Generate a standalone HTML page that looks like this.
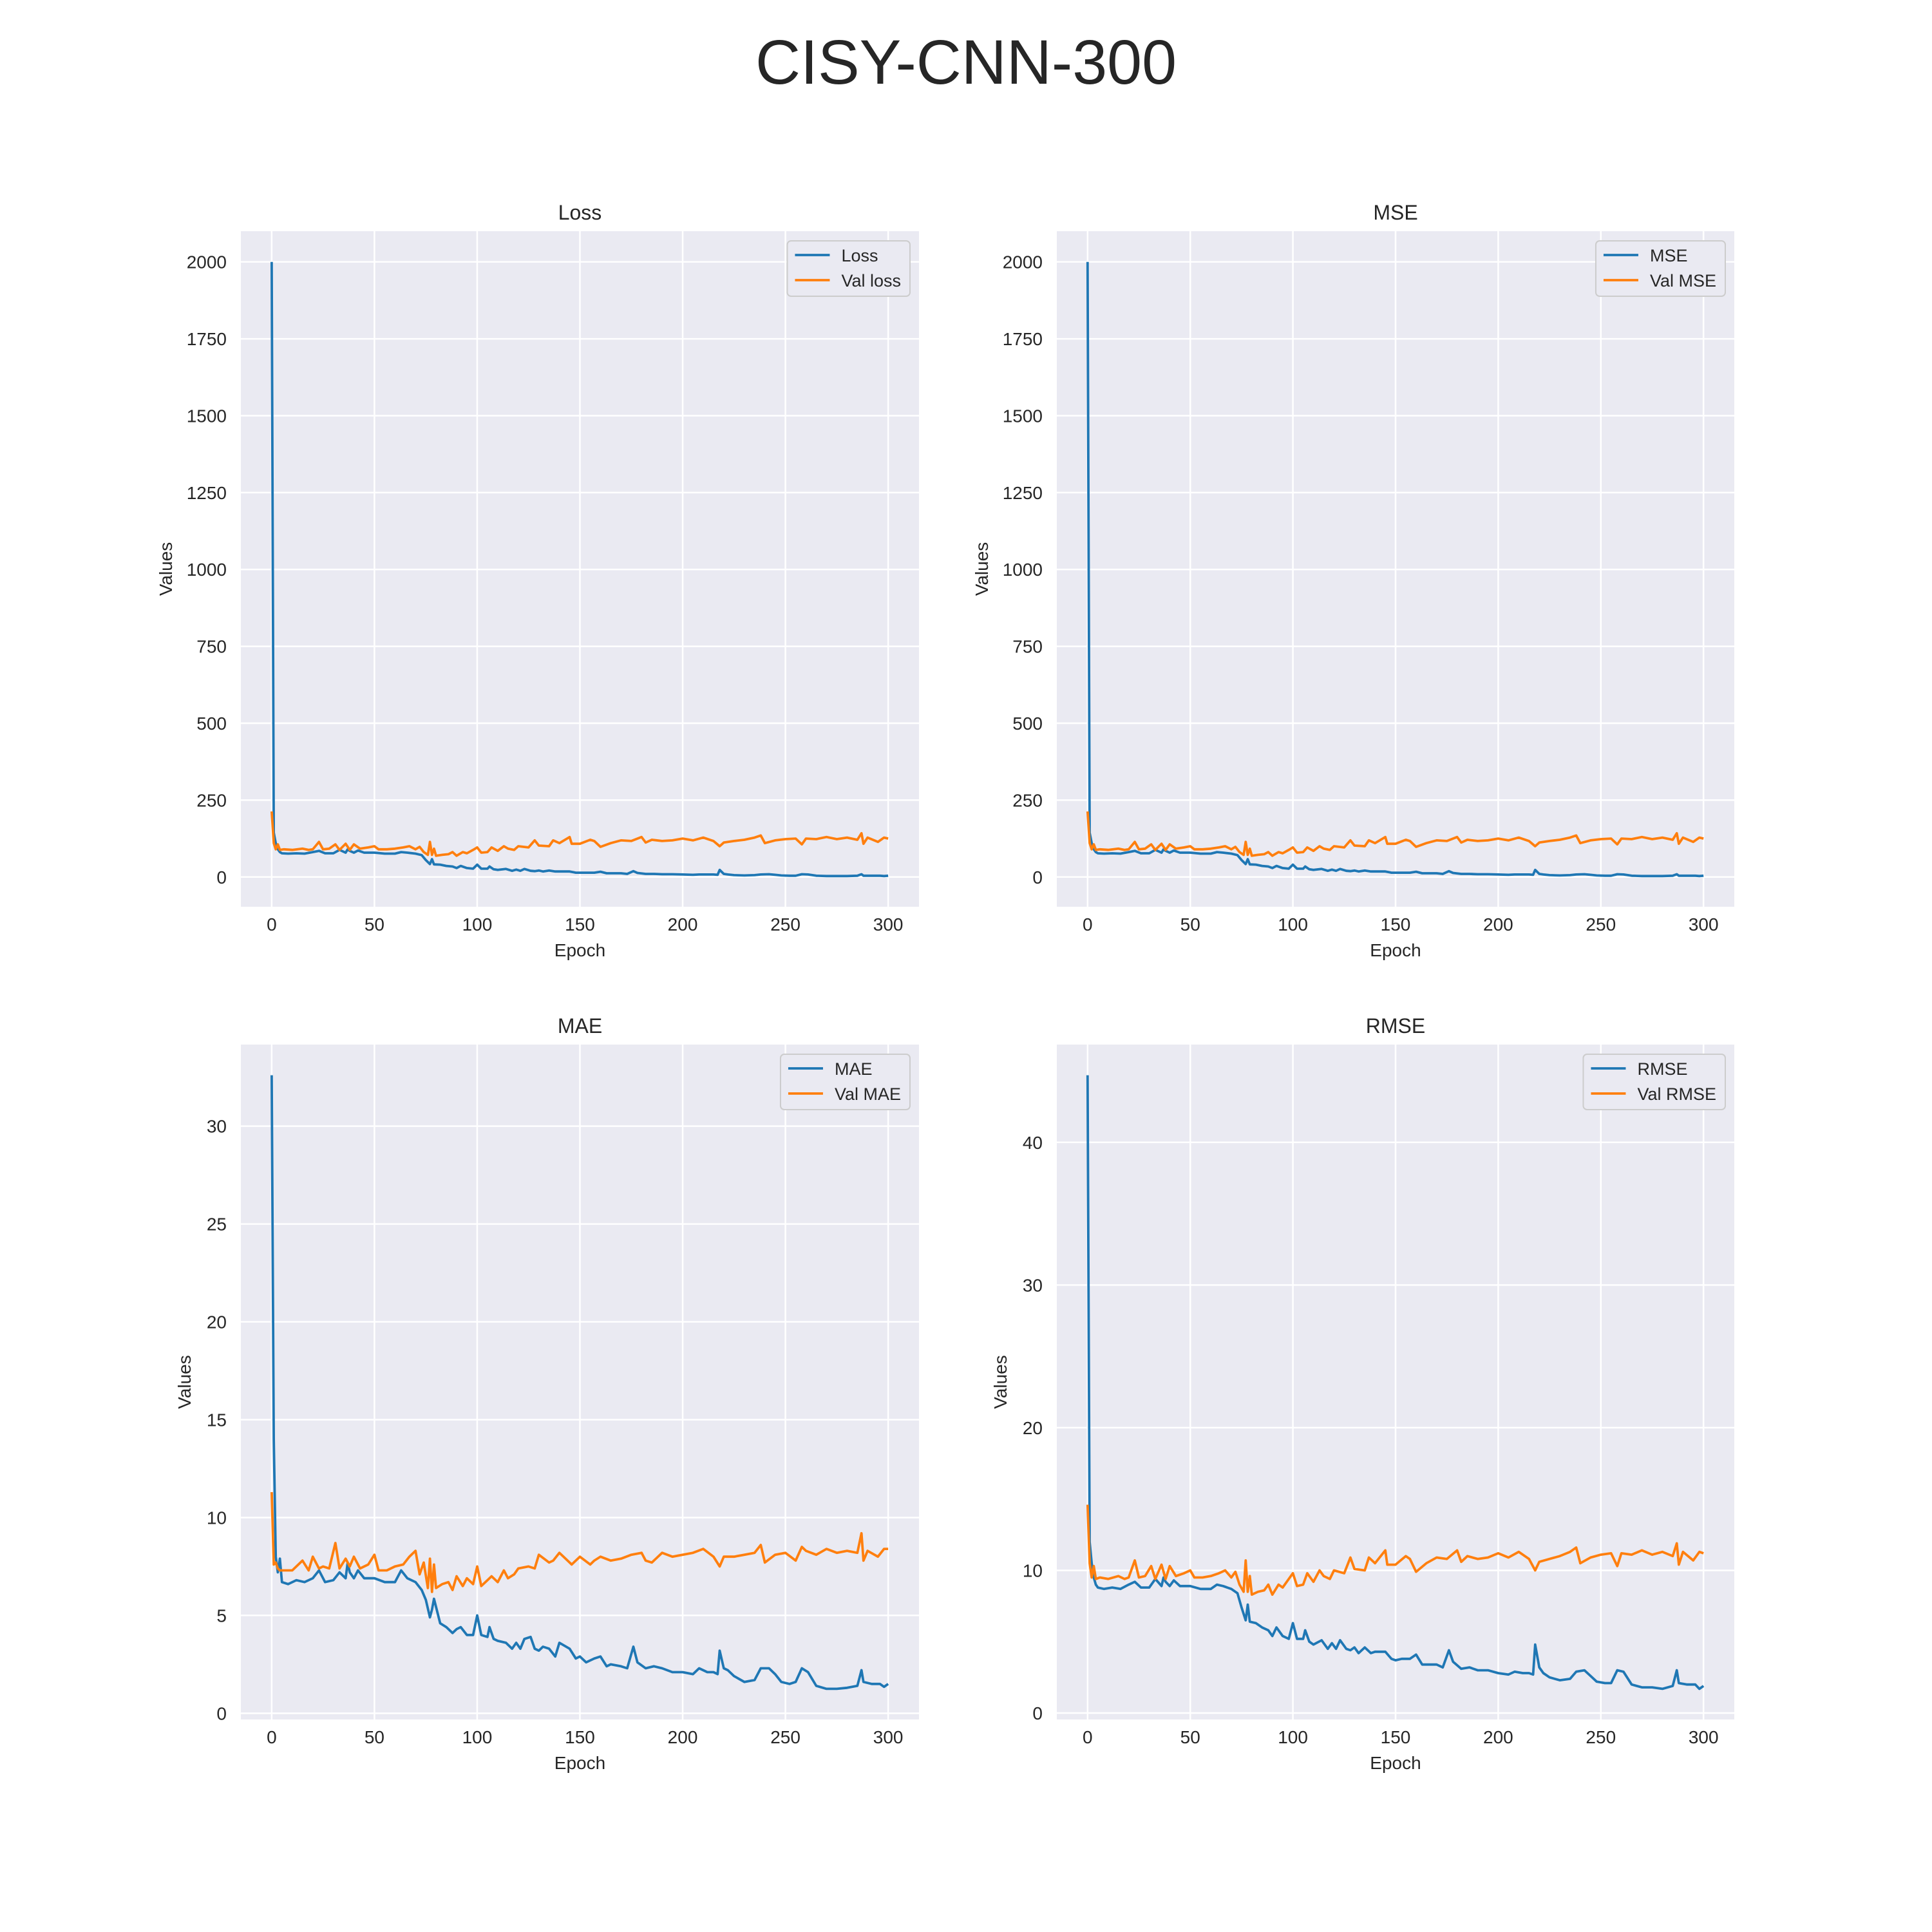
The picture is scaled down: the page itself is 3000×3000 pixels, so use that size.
<!DOCTYPE html>
<html><head><meta charset="utf-8"><style>
html,body{margin:0;padding:0;background:#fff}
svg{display:block}
text{font-family:"Liberation Sans",Arial,sans-serif;fill:#262626}
</style></head><body>
<svg id="fig" width="3000" height="3000" viewBox="0 0 3000 3000" xmlns="http://www.w3.org/2000/svg">
<rect width="3000" height="3000" fill="#fff"/>
<text x="1500" y="130" font-size="97" text-anchor="middle">CISY-CNN-300</text>
</svg>
<script>
const trainEpochs=[0,1,2,3,4,5,8,12,16,20,23,26,30,33,36,37,38,40,42,45,50,55,60,63,66,70,73,75,77,78,79,82,85,88,90,92,95,98,100,102,105,106,108,110,114,117,119,121,123,126,128,130,132,135,138,140,145,148,150,153,157,160,163,165,170,173,176,178,182,186,190,195,200,205,208,212,215,217,218,220,222,225,230,235,238,242,245,248,252,255,258,261,265,270,275,280,285,287,288,292,296,298,300];
const valEpochs=[0,1,2,3,4,6,10,15,18,20,23,25,28,31,33,36,38,40,43,47,50,52,56,60,64,67,70,72,74,76,77,78,79,80,83,86,88,90,93,95,98,100,102,105,107,110,113,115,118,120,125,128,130,135,137,140,145,146,150,155,157,160,165,170,175,180,182,185,190,195,200,205,210,215,218,220,225,230,235,238,240,245,250,255,258,260,265,270,275,280,285,287,288,290,295,298,300];
const lossTrain=[2000,144,110,90,81,77,76,77,76,81,85,77,77,88,79,90,85,79,86,79,79,76,76,81,79,76,71,55,42,58,41,40,36,34,29,36,29,27,40,27,27,34,25,23,26,20,24,20,26,20,19,21,18,21,18,18,18,14,14,14,14,17,12,12,12,10,19,13,10,10,9,9,8,7,8,8,8,7,23,10,8,6,5,6,8,9,7,5,4,4,9,8,4,3,3,3,4,9,4,4,4,3,4];
const lossVal=[213,110,90,106,88,90,88,92,88,90,114,90,92,106,88,108,88,106,92,96,100,90,90,92,96,100,90,98,81,72,114,72,92,69,72,74,81,69,81,77,88,96,79,81,96,85,100,92,88,100,96,119,102,100,119,110,130,108,108,121,117,98,110,119,117,130,112,121,117,119,125,119,128,117,100,112,117,121,128,135,110,119,123,125,106,125,123,130,123,128,121,142,108,128,114,128,125];
const mseTrain=[2000,144,110,90,81,77,76,77,76,81,85,77,77,88,79,90,85,79,86,79,79,76,76,81,79,76,71,55,42,58,41,40,36,34,29,36,29,27,40,27,27,34,25,23,26,20,24,20,26,20,19,21,18,21,18,18,18,14,14,14,14,17,12,12,12,10,19,13,10,10,9,9,8,7,8,8,8,7,23,10,8,6,5,6,8,9,7,5,4,4,9,8,4,3,3,3,4,9,4,4,4,3,4];
const mseVal=[213,110,90,106,88,90,88,92,88,90,114,90,92,106,88,108,88,106,92,96,100,90,90,92,96,100,90,98,81,72,114,72,92,69,72,74,81,69,81,77,88,96,79,81,96,85,100,92,88,100,96,119,102,100,119,110,130,108,108,121,117,98,110,119,117,130,112,121,117,119,125,119,128,117,100,112,117,121,128,135,110,119,123,125,106,125,123,130,123,128,121,142,108,128,114,128,125];
const maeTrain=[32.6,14,8.0,7.2,7.9,6.7,6.6,6.8,6.7,6.9,7.3,6.7,6.8,7.2,6.9,7.7,7.2,6.9,7.3,6.9,6.9,6.7,6.7,7.3,6.9,6.7,6.3,5.8,4.9,5.3,5.85,4.6,4.4,4.1,4.3,4.4,4.0,4.0,5.0,4.0,3.9,4.4,3.8,3.7,3.6,3.3,3.6,3.3,3.8,3.9,3.3,3.2,3.4,3.3,2.9,3.6,3.3,2.8,2.9,2.6,2.8,2.9,2.4,2.5,2.4,2.3,3.4,2.6,2.3,2.4,2.3,2.1,2.1,2.0,2.3,2.1,2.1,2.0,3.2,2.3,2.2,1.9,1.6,1.7,2.3,2.3,2.0,1.6,1.5,1.6,2.3,2.1,1.4,1.25,1.25,1.3,1.4,2.2,1.6,1.5,1.5,1.35,1.5];
const maeVal=[11.3,7.6,7.7,7.4,7.3,7.3,7.3,7.8,7.3,8.0,7.4,7.5,7.4,8.7,7.4,7.9,7.5,8.0,7.4,7.6,8.1,7.3,7.3,7.5,7.6,8.0,8.3,7.1,7.7,6.4,7.9,6.2,7.6,6.4,6.6,6.7,6.3,7.0,6.5,6.9,6.6,7.5,6.5,6.8,7.0,6.7,7.3,6.9,7.1,7.4,7.5,7.4,8.1,7.7,7.8,8.2,7.7,7.6,8.0,7.6,7.8,8.0,7.8,7.9,8.1,8.2,7.8,7.7,8.2,8.0,8.1,8.2,8.4,8.0,7.5,8.0,8.0,8.1,8.2,8.6,7.7,8.1,8.2,7.8,8.5,8.3,8.1,8.4,8.2,8.3,8.2,9.2,7.8,8.3,8.0,8.4,8.4];
const rmseTrain=[44.7,12,10.5,9.5,9.0,8.8,8.7,8.8,8.7,9.0,9.2,8.8,8.8,9.4,8.9,9.5,9.2,8.9,9.3,8.9,8.9,8.7,8.7,9.0,8.9,8.7,8.4,7.4,6.5,7.6,6.4,6.3,6.0,5.8,5.4,6.0,5.4,5.2,6.3,5.2,5.2,5.8,5.0,4.8,5.1,4.5,4.9,4.5,5.1,4.5,4.4,4.6,4.2,4.6,4.2,4.3,4.3,3.8,3.7,3.8,3.8,4.1,3.4,3.4,3.4,3.2,4.4,3.6,3.1,3.2,3.0,3.0,2.8,2.7,2.9,2.8,2.8,2.7,4.8,3.2,2.8,2.5,2.3,2.4,2.9,3.0,2.6,2.2,2.1,2.1,3.0,2.9,2.0,1.8,1.8,1.7,1.9,3.0,2.1,2.0,2.0,1.7,1.9];
const rmseVal=[14.6,10.5,9.5,10.3,9.4,9.5,9.4,9.6,9.4,9.5,10.7,9.5,9.6,10.3,9.4,10.4,9.4,10.3,9.6,9.8,10.0,9.5,9.5,9.6,9.8,10.0,9.5,9.9,9.0,8.5,10.7,8.5,9.6,8.3,8.5,8.6,9.0,8.3,9.0,8.8,9.4,9.8,8.9,9.0,9.8,9.2,10.0,9.6,9.4,10.0,9.8,10.9,10.1,10.0,10.9,10.5,11.4,10.4,10.4,11.0,10.8,9.9,10.5,10.9,10.8,11.4,10.6,11.0,10.8,10.9,11.2,10.9,11.3,10.8,10.0,10.6,10.8,11.0,11.3,11.6,10.5,10.9,11.1,11.2,10.3,11.2,11.1,11.4,11.1,11.3,11.0,11.9,10.4,11.3,10.7,11.3,11.2];
const xTicks=[0,50,100,150,200,250,300];
const yTicksLoss=[0,250,500,750,1000,1250,1500,1750,2000];
const yTicksMae=[0,5,10,15,20,25,30];
const yTicksRmse=[0,10,20,30,40];
const panels=[
 {name:'loss',title:'Loss',l:374,t:359,w:1053,h:1049,yo:107,tr:lossTrain,va:lossVal,yt:yTicksLoss,lab:['Loss','Val loss']},
 {name:'mse',title:'MSE',l:1641,t:359,w:1052,h:1049,yo:107,tr:mseTrain,va:mseVal,yt:yTicksLoss,lab:['MSE','Val MSE']},
 {name:'mae',title:'MAE',l:374,t:1622,w:1053,h:1048,yo:78,tr:maeTrain,va:maeVal,yt:yTicksMae,lab:['MAE','Val MAE']},
 {name:'rmse',title:'RMSE',l:1641,t:1622,w:1052,h:1048,yo:78,tr:rmseTrain,va:rmseVal,yt:yTicksRmse,lab:['RMSE','Val RMSE']}
];
const NS='http://www.w3.org/2000/svg';
const svg=document.getElementById('fig');
function mk(tag,attrs,parent){const e=document.createElementNS(NS,tag);for(const k in attrs)e.setAttribute(k,attrs[k]);(parent||svg).appendChild(e);return e;}
panels.forEach(p=>{
 const g=mk('g',{});
 
 
 const all=p.tr.concat(p.va);
 const mn=Math.min(...all),mx=Math.max(...all),r=mx-mn;
 const y0=mn-0.05*r,y1=mx+0.05*r;
 const xs=v=>p.l+(v+15)/330*p.w;
 const ys=v=>p.t+p.h-(v-y0)/(y1-y0)*p.h;
 const bg=mk('rect',{x:p.l,y:p.t,width:p.w,height:p.h,fill:'#eaeaf2'},g);
 
 
 xTicks.forEach(t=>{
  const ln=mk('line',{x1:xs(t),x2:xs(t),y1:p.t,y2:p.t+p.h,stroke:'#fff','stroke-width':2.5},g);
  
  
  const tx=mk('text',{x:xs(t),y:p.t+p.h+37,'font-size':28,'text-anchor':'middle'},g);
  
  
  tx.textContent=t;
 });
 p.yt.forEach(t=>{
  const ln=mk('line',{x1:p.l,x2:p.l+p.w,y1:ys(t),y2:ys(t),stroke:'#fff','stroke-width':2.5},g);
  
  
  const tx=mk('text',{x:p.l-22,y:ys(t)+10,'font-size':28,'text-anchor':'end'},g);
  
  
  tx.textContent=t;
 });
 const series=[[trainEpochs,p.tr,'#1f77b4',p.lab[0]],[valEpochs,p.va,'#ff7f0e',p.lab[1]]];
 series.forEach((s,i)=>{
  const pts=s[0].map((e,j)=>xs(e).toFixed(1)+','+ys(s[1][j]).toFixed(1)).join(' ');
  const pl=mk('polyline',{points:pts,fill:'none',stroke:s[2],'stroke-width':3.8,'stroke-linejoin':'round'},g);
  
  
 });
 const tt=mk('text',{x:p.l+p.w/2,y:p.t-18,'font-size':32,'text-anchor':'middle'},g);
 
 
 tt.textContent=p.title;
 const xl=mk('text',{x:p.l+p.w/2,y:p.t+p.h+77,'font-size':28,'text-anchor':'middle'},g);
 
 
 xl.textContent='Epoch';
 const cx=p.l-p.yo, cy=p.t+p.h/2;
 const yl=mk('text',{x:cx,y:cy,'font-size':28,'text-anchor':'middle',transform:'rotate(-90 '+cx+' '+cy+')'},g);
 
 
 yl.textContent='Values';
 const lg=mk('g',{},g);
 
 
 const box=mk('rect',{y:p.t+15,height:86,rx:6,fill:'#eaeaf2',stroke:'#cccccc','stroke-width':2},lg);
 const texts=[];
 series.forEach((s,i)=>{
  const yy=p.t+15+22+i*39;
  const ll=mk('line',{y1:yy,y2:yy,stroke:s[2],'stroke-width':3.8},lg);
  
  
  const lt=mk('text',{y:yy+10,'font-size':27},lg);
  
  
  lt.textContent=s[3];
  texts.push([ll,lt]);
 });
 let tw=0;texts.forEach(([ll,lt])=>{tw=Math.max(tw,lt.getComputedTextLength());});
 const lw=84+tw+14, lx=p.l+p.w-14-lw;
 box.setAttribute('x',lx);box.setAttribute('width',lw);
 texts.forEach(([ll,lt])=>{ll.setAttribute('x1',lx+12);ll.setAttribute('x2',lx+66);lt.setAttribute('x',lx+84);});
});
</script>
</body></html>
